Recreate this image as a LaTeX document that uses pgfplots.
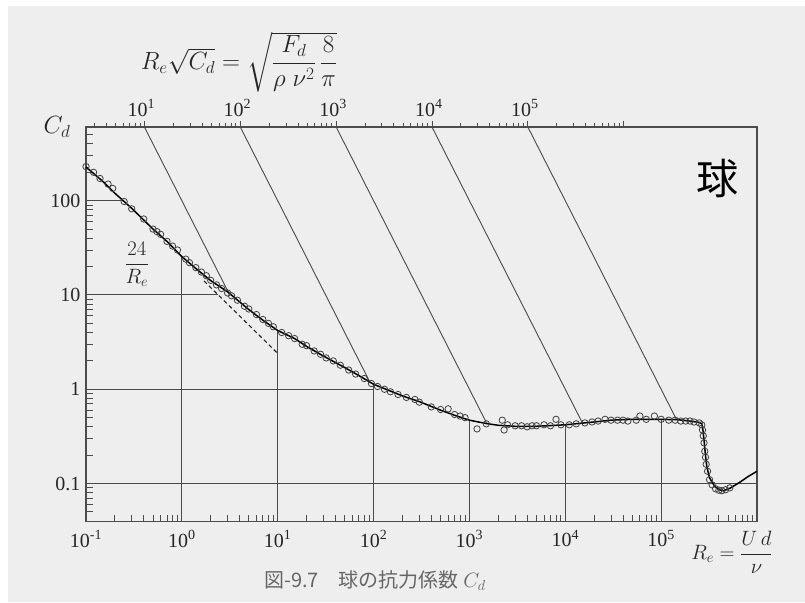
\documentclass[border=0pt]{standalone}
\usepackage{amsmath}
\usepackage{fontspec}
\setmainfont{Liberation Serif}
\newfontfamily\cjk{Noto Sans CJK JP}
\usepackage{pgfplots}
\usepackage{pgfplotstable}
\pgfplotsset{compat=1.18}
\definecolor{bg}{HTML}{EEEEEE}
\definecolor{ln}{HTML}{4A4A4A}

\pgfplotstableread{
Re Cd
0.1 228
0.15 160
0.2 120
0.3 83
0.5 50
0.7 37
1 25.5
1.5 18
2 14.2
3 10.8
5 7.0
7 5.4
10 4.2
15 3.45
20 2.85
30 2.25
50 1.7
70 1.4
100 1.13
200 0.85
300 0.74
500 0.6
700 0.53
1000 0.47
1500 0.433
2000 0.415
3000 0.405
5000 0.405
10000 0.42
20000 0.45
30000 0.47
50000 0.48
100000 0.48
150000 0.475
200000 0.46
250000 0.445
265000 0.43
272000 0.38
280000 0.29
290000 0.2
300000 0.15
320000 0.115
360000 0.094
400000 0.086
450000 0.084
520000 0.089
660000 0.103
800000 0.118
1000000 0.135
}\curve

\pgfplotstableread{
Re Cd
0.1 230
0.12 200
0.14 172
0.17 150
0.19 135
0.25 98
0.3 82
0.4 64
0.5 50
0.55 47
0.6 44
0.7 37
0.8 33
0.9 30
1.1 24
1.2 22
1.4 19.5
1.6 17.5
1.8 16
2.0 14.3
2.3 12.8
2.6 11.7
3 10.5
3.3 9.8
3.8 8.8
4.5 7.6
5 7.1
6 6.2
7 5.5
8 5.0
9 4.6
11 4.0
13 3.7
15 3.45
18 3.0
20 2.9
24 2.55
28 2.35
32 2.15
38 2.0
45 1.8
55 1.6
65 1.45
80 1.3
95 1.15
110 1.07
130 1.0
150 0.94
180 0.88
220 0.82
270 0.78
300 0.73
400 0.65
500 0.61
600 0.62
700 0.54
800 0.52
900 0.5
1200 0.38
1500 0.43
2200 0.47
2300 0.37
2500 0.42
3000 0.41
3500 0.41
4000 0.40
4500 0.41
5000 0.41
6000 0.42
7000 0.41
8000 0.48
9000 0.42
11000 0.42
13000 0.43
16000 0.44
19000 0.45
22000 0.46
26000 0.48
30000 0.47
35000 0.47
40000 0.47
45000 0.46
55000 0.47
60000 0.52
70000 0.48
85000 0.52
100000 0.48
120000 0.47
140000 0.47
160000 0.46
180000 0.46
200000 0.46
220000 0.45
250000 0.44
265000 0.42
270000 0.37
275000 0.32
280000 0.27
285000 0.22
290000 0.19
295000 0.16
305000 0.135
320000 0.11
340000 0.097
370000 0.088
400000 0.085
430000 0.084
470000 0.086
520000 0.09
}\marks

\begin{document}
\begin{tikzpicture}
\useasboundingbox (0pt,0pt) rectangle (805pt,602pt);
\fill[white] (0pt,0pt) rectangle (805pt,602pt);
\fill[bg] (8pt,0pt) rectangle (805pt,596pt);

\begin{axis}[
  at={(86pt,80.3pt)}, anchor=south west,
  scale only axis, width=671pt, height=394.7pt,
  xmode=log, ymode=log,
  xmin=0.1, xmax=1e6, ymin=0.0394, ymax=604.7,
  axis line style={draw=black!70, line width=1.3pt},
  xtick={0.1,1,10,100,1000,10000,100000},
  xticklabels={10\textsuperscript{-1},10\textsuperscript{0},10\textsuperscript{1},10\textsuperscript{2},10\textsuperscript{3},10\textsuperscript{4},10\textsuperscript{5}},
  ytick={0.1,1,10,100},
  yticklabels={0.1,1,10,100},
  minor xtick={0.2,0.3,0.4,0.5,0.6,0.7,0.8,0.9,2,3,4,5,6,7,8,9,20,30,40,50,60,70,80,90,200,300,400,500,600,700,800,900,2000,3000,4000,5000,6000,7000,8000,9000,20000,30000,40000,50000,60000,70000,80000,90000,200000,300000,400000,500000,600000,700000,800000,900000},
  minor ytick={0.04,0.05,0.06,0.07,0.08,0.09,0.2,0.3,0.4,0.5,0.6,0.7,0.8,0.9,2,3,4,5,6,7,8,9,20,30,40,50,60,70,80,90,200,300,400,500,600},
  major tick length=0pt, minor tick length=7pt,
  xtick pos=left, ytick pos=left,
  tick style={black!70, line width=0.9pt},
  ticklabel style={font=\fontsize{20}{22}\selectfont, text=black!85},
  xticklabel style={yshift=-5pt},
  yticklabel style={xshift=-2pt},
  clip=false,
]
% partial grid lines
\addplot[ln, line width=1.1pt] coordinates {(1,0.0394) (1,25.5)};
\addplot[ln, line width=1.1pt] coordinates {(10,0.0394) (10,4.2)};
\addplot[ln, line width=1.1pt] coordinates {(100,0.0394) (100,1.13)};
\addplot[ln, line width=1.1pt] coordinates {(1000,0.0394) (1000,0.47)};
\addplot[ln, line width=1.1pt] coordinates {(10000,0.0394) (10000,0.42)};
\addplot[ln, line width=1.1pt] coordinates {(100000,0.0394) (100000,0.48)};
\addplot[ln, line width=1.1pt] coordinates {(0.1,100) (0.23,100)};
\addplot[ln, line width=1.0pt] coordinates {(0.1,10.05) (2.4,10.05)};
\addplot[ln, line width=1.1pt] coordinates {(0.1,1) (100,1)};
\addplot[ln, line width=1.1pt] coordinates {(0.1,0.1) (1000000,0.1)};
% lines of constant Re sqrt(Cd)
\addplot[ln, line width=0.9pt] coordinates {(0.4067,604.7) (3.05,10.75)};
\addplot[ln, line width=0.9pt] coordinates {(4.067,604.7) (92,1.18)};
\addplot[ln, line width=0.9pt] coordinates {(40.67,604.7) (1520,0.433)};
\addplot[ln, line width=0.9pt] coordinates {(406.7,604.7) (15200,0.433)};
\addplot[ln, line width=0.9pt] coordinates {(4067,604.7) (145000,0.4756)};
% Stokes law 24/Re
\addplot[black!85, line width=1.1pt, dash pattern=on 4pt off 3pt] coordinates {(1.7,14.1) (10,2.4)};
% curve
\addplot[black, line width=1.5pt] table[x=Re, y=Cd] {\curve};
% measured points
\addplot[only marks, mark=o, mark size=3.2pt, mark options={black!75, line width=0.8pt}] table[x=Re, y=Cd] {\marks};

\node[font=\fontsize{22}{24}\selectfont, text=black!85] at (axis cs:0.34,21) {$\dfrac{24}{R_e}$};
\node[font=\cjk\fontsize{42}{42}\selectfont] at (axis cs:390000,174) {球};
\end{axis}

\begin{axis}[
  at={(86pt,80.3pt)}, anchor=south west,
  scale only axis, width=671pt, height=394.7pt,
  xmode=log, xmin=2.459, xmax=2.459e7, ymin=0, ymax=1,
  axis x line*=top, axis y line=none,
  axis line style={draw=black!70, line width=1.3pt},
  xtick={10,100,1000,10000,100000,1000000},
  xticklabels={10\textsuperscript{1},10\textsuperscript{2},10\textsuperscript{3},10\textsuperscript{4},10\textsuperscript{5},{}},
  minor xtick={3,4,5,6,7,8,9,20,30,40,50,60,70,80,90,200,300,400,500,600,700,800,900,2000,3000,4000,5000,6000,7000,8000,9000,20000,30000,40000,50000,60000,70000,80000,90000,200000,300000,400000,500000,600000,700000,800000,900000},
  tick align=outside, major tick length=6pt, minor tick length=4pt,
  tick style={black!70, line width=0.9pt},
  ticklabel style={font=\fontsize{20}{22}\selectfont, text=black!85},
  xticklabel style={yshift=1pt, xshift=-3pt},
]
\addplot[draw=none] coordinates {(10,0.5)};
\end{axis}

\node[font=\fontsize{26}{30}\selectfont, text=black!85] at (239pt,540pt) {$R_e\sqrt{C_d}=\sqrt{\dfrac{F_d}{\rho\;\nu^2}\,\dfrac{8}{\pi}}$};
\node[font=\fontsize{23}{25}\selectfont, text=black!85] at (57pt,475pt) {$C_d$};
\node[font=\fontsize{22}{24}\selectfont, text=black!85] at (732pt,50pt) {$R_e=\dfrac{U\,d}{\nu}$};
\node[font=\cjk\fontsize{20}{22}\selectfont, text=black!60] at (375pt,21pt) {図-9.7\quad 球の抗力係数 {\rmfamily$C_d$}};
\end{tikzpicture}
\end{document}
